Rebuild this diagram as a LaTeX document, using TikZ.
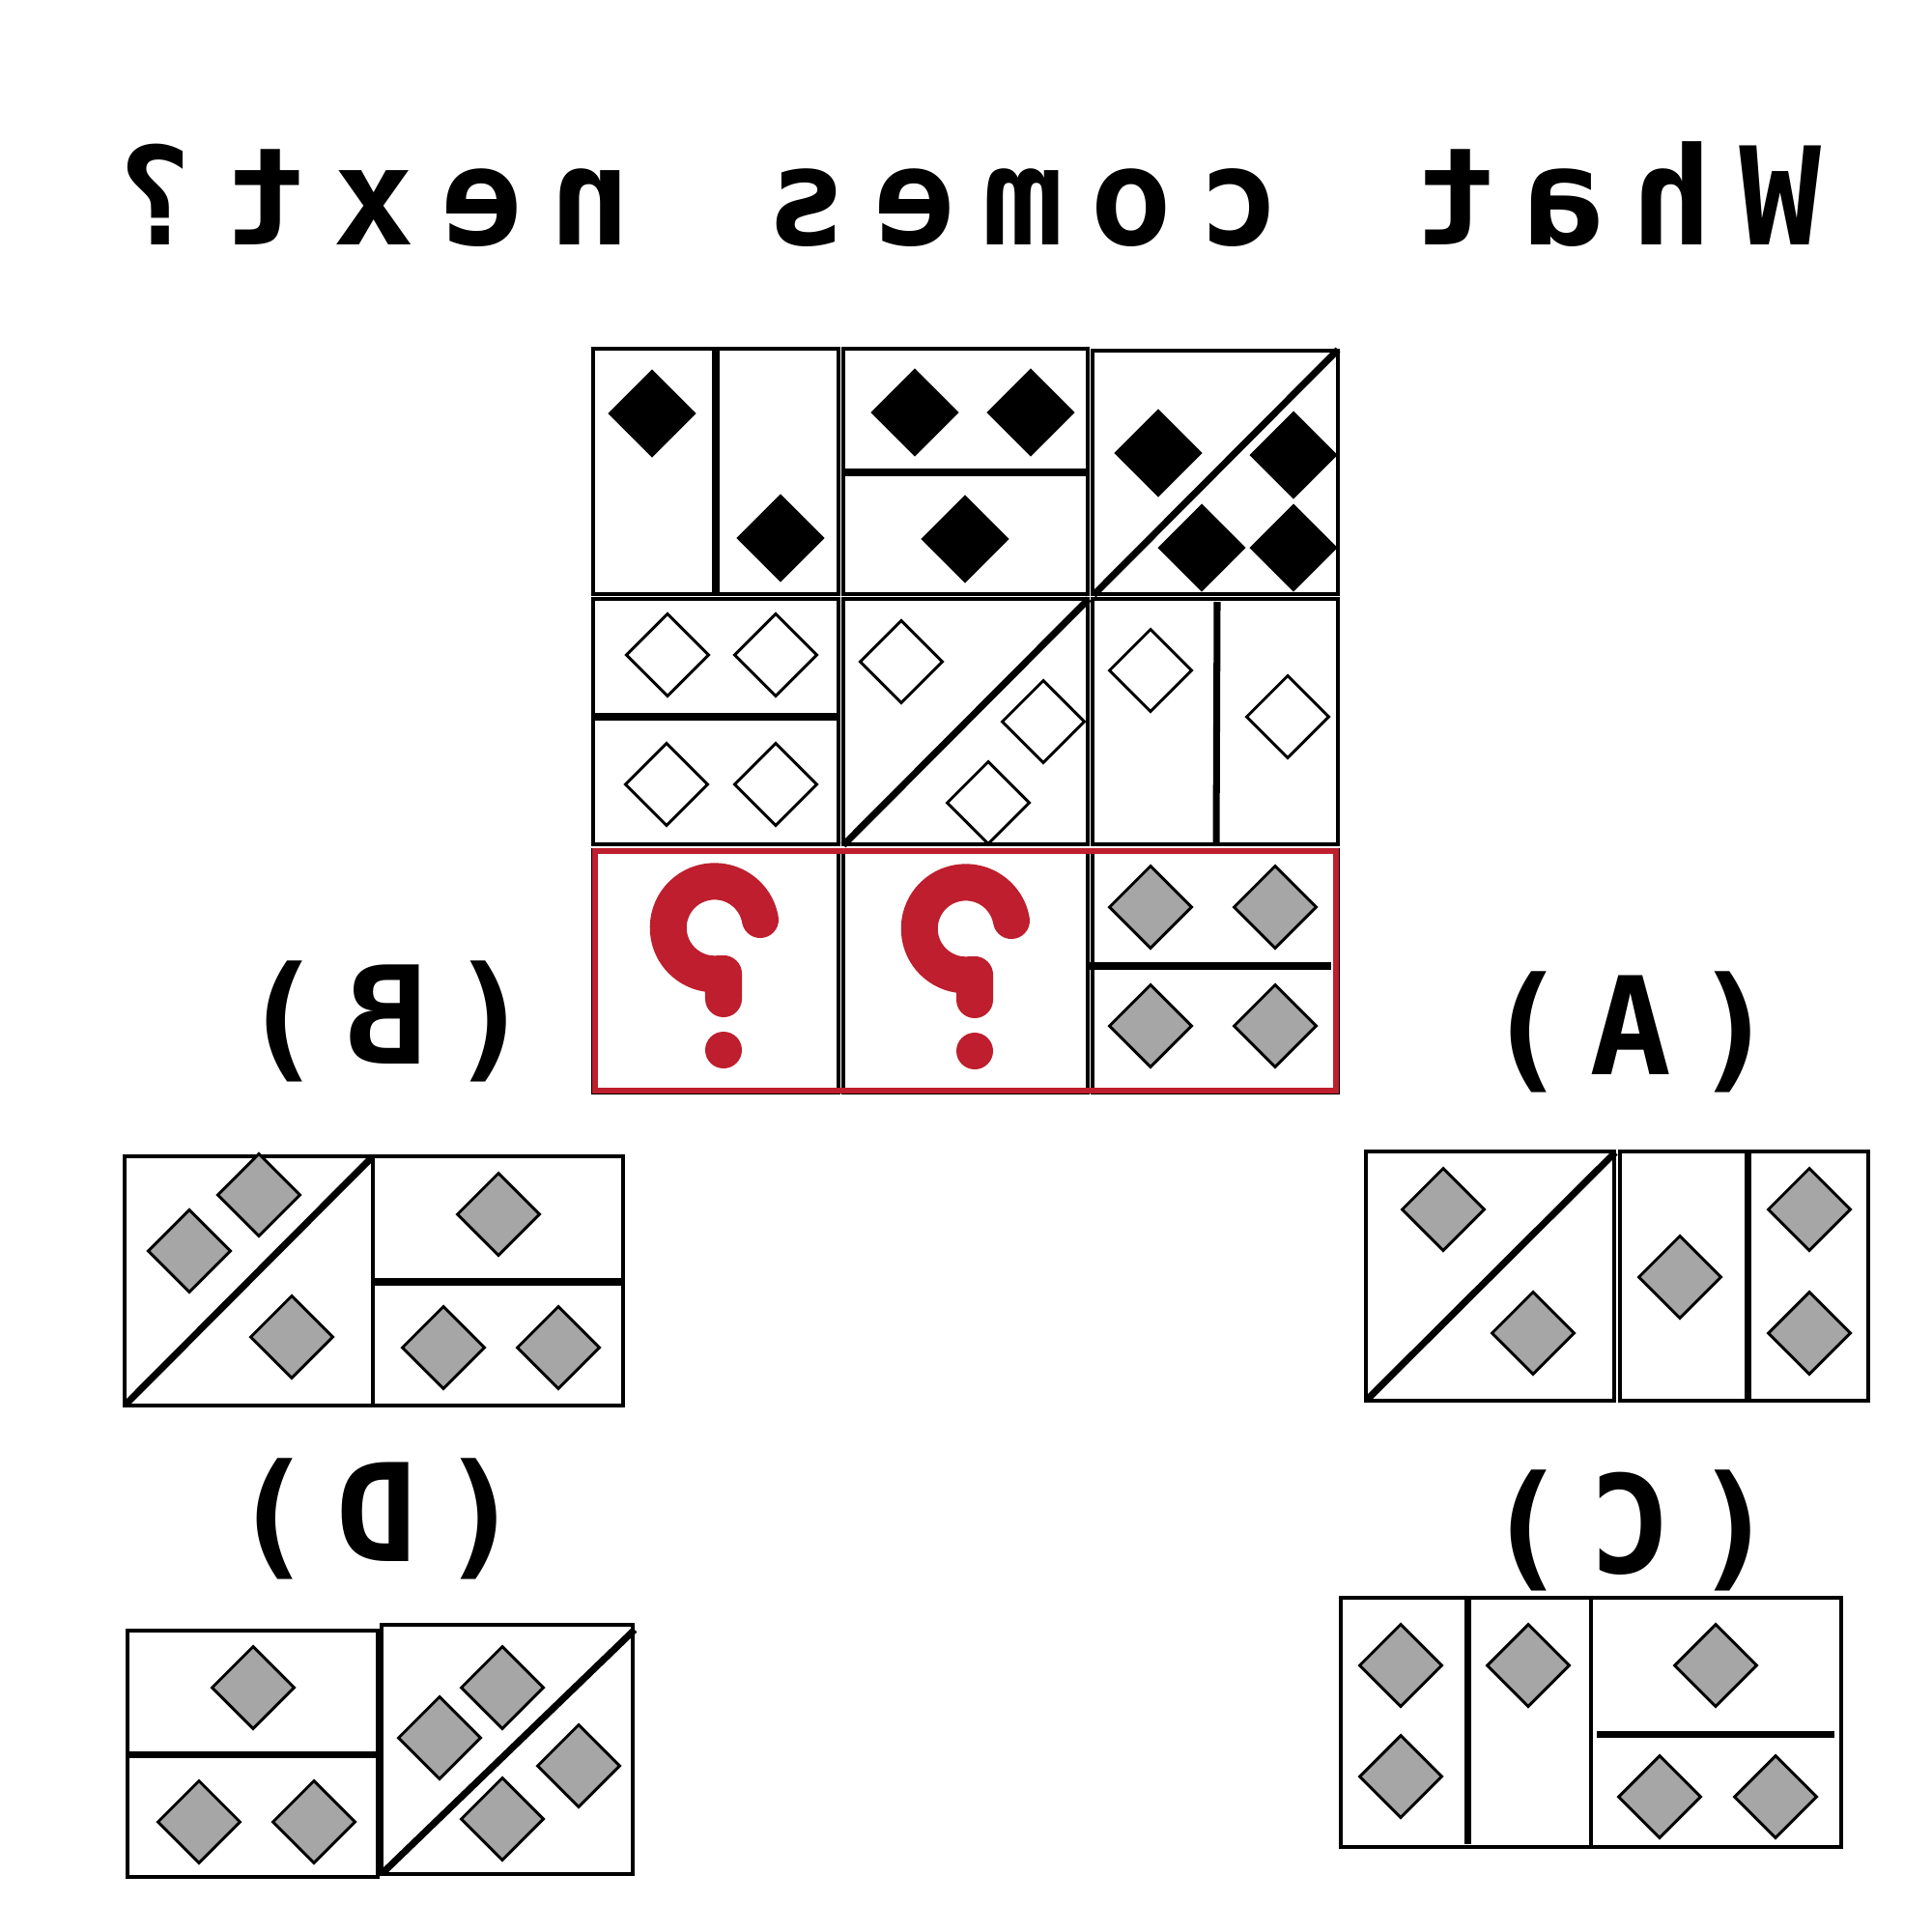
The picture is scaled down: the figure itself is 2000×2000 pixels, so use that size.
\documentclass[tikz,border=0pt]{standalone}
\usepackage{fontspec}
\newfontfamily\monofnt{DejaVu Sans Mono}
\usetikzlibrary{shapes.geometric}
\definecolor{qred}{HTML}{BE1E2D}
\definecolor{dgray}{HTML}{A6A6A6}
\newcommand\tch[1]{\makebox[1.12cm]{#1}}
\newcommand\lch[1]{\makebox[1.08cm]{#1}}
\begin{document}
\begin{tikzpicture}[x=0.01cm,y=-0.01cm,
  cellbox/.style={draw=black, line width=0.9pt},
  divider/.style={draw=black, line width=2pt},
  dia/.style={diamond, aspect=1, inner sep=0pt, minimum width=0.86cm, minimum height=0.86cm, draw=black, line width=0.85pt},
  bdia/.style={dia, fill=black, minimum width=0.88cm, minimum height=0.88cm},
  wdia/.style={dia, fill=white},
  gdia/.style={dia, fill=dgray},
  ttl/.style={font=\monofnt\bfseries\fontsize{40pt}{48pt}\selectfont, xscale=-1, inner sep=0pt, anchor=base},
  qmark/.style={draw=qred, line width=0.38cm, line cap=round, line join=round}]
\useasboundingbox (0,0) rectangle (2000,2000);
\fill[white] (0,0) rectangle (2000,2000);

% title
\node[ttl] (title) at (1003,253) {\tch{W}\tch{h}\tch{a}\tch{t}\tch{}\tch{c}\tch{o}\tch{m}\tch{e}\tch{s}\tch{}\tch{n}\tch{e}\tch{x}\tch{t}\tch{?}};

% ---- main grid ----
% row 1
\draw[cellbox] (614,361) rectangle (868,615);
\draw[cellbox] (873,361) rectangle (1126,615);
\draw[cellbox] (1131,363) rectangle (1385,615);
\draw[divider] (741,361) -- (741,615);
\draw[divider] (873,489) -- (1126,489);
\draw[divider] (1132,616) -- (1385,362);
\node[bdia] (a1) at (675,428) {};
\node[bdia] (a2) at (808,557) {};
\node[bdia] (b1) at (947,427) {};
\node[bdia] (b2) at (1067,427) {};
\node[bdia] (b3) at (999,558) {};
\node[bdia] (c1) at (1199,469) {};
\node[bdia] (c2) at (1339,471) {};
\node[bdia] (c3) at (1244,567) {};
\node[bdia] (c4) at (1339,567) {};
% row 2
\draw[cellbox] (614,620) rectangle (868,874);
\draw[cellbox] (873,620) rectangle (1126,874);
\draw[cellbox] (1131,620) rectangle (1385,874);
\draw[divider] (614,742) -- (868,742);
\draw[divider] (873,875) -- (1127,620);
\draw[divider] (1260,623) -- (1259,875);
\node[wdia] (d1) at (691,678) {};
\node[wdia] (d2) at (803,678) {};
\node[wdia] (d3) at (690,812) {};
\node[wdia] (d4) at (803,812) {};
\node[wdia] (e1) at (933,685) {};
\node[wdia] (e2) at (1080,747) {};
\node[wdia] (e3) at (1023,831) {};
\node[wdia] (f1) at (1191,694) {};
\node[wdia] (f2) at (1333,742) {};
% row 3
\draw[cellbox] (614,880) rectangle (868,1131);
\draw[cellbox] (873,880) rectangle (1126,1131);
\draw[cellbox] (1131,880) rectangle (1385,1131);
\draw[divider] (1128,1000) -- (1378,1000);
\node[gdia] (g1) at (1191,939) {};
\node[gdia] (g2) at (1320,939) {};
\node[gdia] (g3) at (1191,1062) {};
\node[gdia] (g4) at (1320,1062) {};
\draw[qmark] (787,952) arc[start angle=-10, end angle=-270, radius=48] -- (749,1008) -- (749,1034);
\fill[qred] (749,1087) circle[radius=19];
\draw[qmark] (1047,953) arc[start angle=-10, end angle=-270, radius=48] -- (1009,1009) -- (1009,1035);
\fill[qred] (1009,1088) circle[radius=19];
\draw[draw=qred, line width=1.7pt] (616,881) rectangle (1383,1129);

% ---- option B ----
\node[ttl] (lB) at (400,1101) {\lch{(}\lch{B}\lch{)}};
\draw[cellbox] (129,1197) rectangle (386,1455);
\draw[cellbox] (386,1197) rectangle (645,1455);
\draw[divider] (386,1327) -- (645,1327);
\draw[divider] (131,1453) -- (385,1198);
\node[gdia] (B1) at (268,1237) {};
\node[gdia] (B2) at (196,1295) {};
\node[gdia] (B3) at (302,1384) {};
\node[gdia] (B4) at (516,1257) {};
\node[gdia] (B5) at (459,1395) {};
\node[gdia] (B6) at (578,1395) {};

% ---- option A ----
\node[ttl] (lA) at (1688,1112) {\lch{(}\lch{A}\lch{)}};
\draw[cellbox] (1414,1192) rectangle (1671,1450);
\draw[cellbox] (1677,1192) rectangle (1934,1450);
\draw[divider] (1809,1192) -- (1809,1450);
\draw[divider] (1415,1449) -- (1672,1193);
\node[gdia] (A1) at (1494,1252) {};
\node[gdia] (A2) at (1587,1380) {};
\node[gdia] (A3) at (1739,1322) {};
\node[gdia] (A4) at (1873,1252) {};
\node[gdia] (A5) at (1873,1380) {};

% ---- option D ----
\node[ttl] (lD) at (390,1616) {\lch{(}\lch{D}\lch{)}};
\draw[cellbox] (132,1688) rectangle (391,1943);
\draw[divider] (132,1816) -- (391,1816);
\draw[cellbox] (395,1682) rectangle (655,1940);
\draw[divider] (397,1938) -- (657,1687);
\node[gdia] (D1) at (262,1747) {};
\node[gdia] (D2) at (206,1886) {};
\node[gdia] (D3) at (325,1886) {};
\node[gdia] (D4) at (520,1747) {};
\node[gdia] (D5) at (455,1799) {};
\node[gdia] (D6) at (599,1828) {};
\node[gdia] (D7) at (520,1883) {};

% ---- option C ----
\node[ttl] (lC) at (1688,1628) {\lch{(}\lch{C}\lch{)}};
\draw[cellbox] (1388,1654) rectangle (1906,1912);
\draw[cellbox] (1647,1654) -- (1647,1912);
\draw[divider] (1519,1652) -- (1519,1909);
\draw[divider] (1653,1795) -- (1899,1795);
\node[gdia] (C1) at (1450,1724) {};
\node[gdia] (C2) at (1450,1839) {};
\node[gdia] (C3) at (1582,1724) {};
\node[gdia] (C4) at (1776,1724) {};
\node[gdia] (C5) at (1718,1860) {};
\node[gdia] (C6) at (1838,1860) {};
\end{tikzpicture}
\end{document}
